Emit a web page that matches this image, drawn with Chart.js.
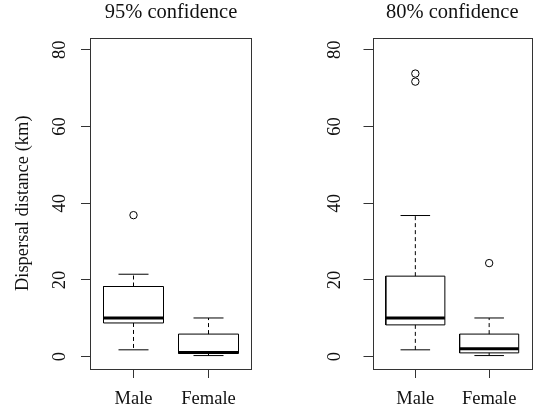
<!DOCTYPE html>
<html lang="en">
<head>
<meta charset="UTF-8">
<title>Dispersal distance</title>
<script src="https://cdn.jsdelivr.net/npm/chart.js"></script>
<style>
  body { margin: 0; background: #fff; }
  .painel { position: absolute; top: 0; }
</style>
</head>
<body>
<canvas id="grafico95" class="painel" width="270" height="415" style="left:0"></canvas>
<canvas id="grafico80" class="painel" width="270" height="415" style="left:270px"></canvas>
<script>
const grupos = ['Male', 'Female'];
const posicoes = [1, 2];
const ticksY = [0, 20, 40, 60, 80];

// 95% confidence
const min95 = [1.8, 0.3];
const q1_95 = [8.8, 0.9];
const mediana95 = [10.1, 1.1];
const q3_95 = [18.3, 5.9];
const max95 = [21.5, 10.1];
const outliers95 = [[36.9], []];

// 80% confidence
const min80 = [1.8, 0.3];
const q1_80 = [8.3, 1.0];
const mediana80 = [10.1, 2.1];
const q3_80 = [21.0, 5.9];
const max80 = [36.8, 10.1];
const outliers80 = [[71.7, 73.8], [24.4]];

const fonte = "'Liberation Serif', serif";
const meiaCaixa = 0.4;   // box half width (R default 0.8 width)
const meiaHaste = 0.2;   // staple half width

function linha(pontos, espessura, tracejado) {
  return {
    data: pontos,
    showLine: true,
    borderColor: '#000',
    borderWidth: espessura,
    borderDash: tracejado,
    borderCapStyle: 'butt',
    borderJoinStyle: 'miter',
    pointRadius: 0,
    fill: false,
    tension: 0
  };
}

function montarDatasets(mins, q1s, meds, q3s, maxs, outs) {
  let ds = [];
  for (let i = 0; i < posicoes.length; i++) {
    let x = posicoes[i];
    // bigodes tracejados
    ds.push(linha([{ x: x, y: q3s[i] }, { x: x, y: maxs[i] }], 1, [4, 3]));
    ds.push(linha([{ x: x, y: q1s[i] }, { x: x, y: mins[i] }], 1, [4, 3]));
    // hastes
    ds.push(linha([{ x: x - meiaHaste, y: maxs[i] }, { x: x + meiaHaste, y: maxs[i] }], 1, []));
    ds.push(linha([{ x: x - meiaHaste, y: mins[i] }, { x: x + meiaHaste, y: mins[i] }], 1, []));
    // caixa
    ds.push(linha([
      { x: x - meiaCaixa, y: q1s[i] }, { x: x + meiaCaixa, y: q1s[i] },
      { x: x + meiaCaixa, y: q3s[i] }, { x: x - meiaCaixa, y: q3s[i] },
      { x: x - meiaCaixa, y: q1s[i] }
    ], 1, []));
    // mediana
    ds.push(linha([{ x: x - meiaCaixa, y: meds[i] }, { x: x + meiaCaixa, y: meds[i] }], 3, []));
    // outliers
    ds.push({
      data: outs[i].map(v => ({ x: x, y: v })),
      showLine: false,
      pointStyle: 'circle',
      pointRadius: 3.7,
      backgroundColor: 'rgba(0,0,0,0)',
      borderColor: '#000',
      borderWidth: 1
    });
  }
  return ds;
}

// moldura do grafico (bty = "o")
const moldura = {
  id: 'moldura',
  afterDraw(chart) {
    const a = chart.chartArea;
    const ctx = chart.ctx;
    ctx.save();
    ctx.strokeStyle = '#333';
    ctx.lineWidth = 1;
    ctx.strokeRect(Math.round(a.left) + 0.5, Math.round(a.top) + 0.5,
      Math.round(a.right - a.left) - 1, Math.round(a.bottom - a.top) - 1);
    ctx.restore();
  }
};

function criarGrafico(id, titulo, datasets, cfg) {
  return new Chart(document.getElementById(id), {
    type: 'scatter',
    data: { datasets: datasets },
    options: {
      responsive: false,
      animation: false,
      devicePixelRatio: 1,
      layout: { padding: { left: 0, right: cfg.direita, top: 0, bottom: 0 } },
      plugins: {
        legend: { display: false },
        tooltip: { enabled: false },
        title: {
          display: true,
          text: titulo,
          fullSize: false,
          color: '#111',
          font: { family: fonte, size: 20.5, weight: 'normal' },
          padding: { top: 0.7, bottom: 12.2 }
        }
      },
      scales: {
        x: {
          type: 'linear',
          min: 0.42,
          max: 2.58,
          afterBuildTicks: s => { s.ticks = posicoes.map(v => ({ value: v })); },
          afterFit: s => { s.height = 46; },
          grid: { drawOnChartArea: false, drawTicks: true, tickLength: 9, color: '#333' },
          border: { display: false },
          ticks: {
            autoSkip: false,
            maxRotation: 0,
            padding: 10,
            color: '#111',
            font: { family: fonte, size: 18.5 },
            callback: v => grupos[posicoes.indexOf(v)]
          }
        },
        y: {
          type: 'linear',
          min: -3.2,
          max: 83.2,
          afterBuildTicks: s => { s.ticks = ticksY.map(v => ({ value: v })); },
          afterFit: s => { s.width = cfg.largura; },
          grid: { drawOnChartArea: false, drawTicks: true, tickLength: 9, color: '#333' },
          border: { display: false },
          ticks: {
            minRotation: 90,
            maxRotation: 90,
            crossAlign: 'center',
            padding: cfg.padY,
            color: '#111',
            font: { family: fonte, size: 18.5 }
          },
          title: {
            display: cfg.tituloY !== '',
            text: cfg.tituloY,
            color: '#111',
            font: { family: fonte, size: 18.5 },
            padding: { top: 12, bottom: 0 }
          }
        }
      }
    },
    plugins: [moldura]
  });
}

criarGrafico('grafico95', '95% confidence',
  montarDatasets(min95, q1_95, mediana95, q3_95, max95, outliers95),
  { largura: 90, direita: 18, padY: 12, tituloY: 'Dispersal distance (km)' });

criarGrafico('grafico80', '80% confidence',
  montarDatasets(min80, q1_80, mediana80, q3_80, max80, outliers80),
  { largura: 102.5, direita: 8, padY: 19, tituloY: '' });
</script>
</body>
</html>
